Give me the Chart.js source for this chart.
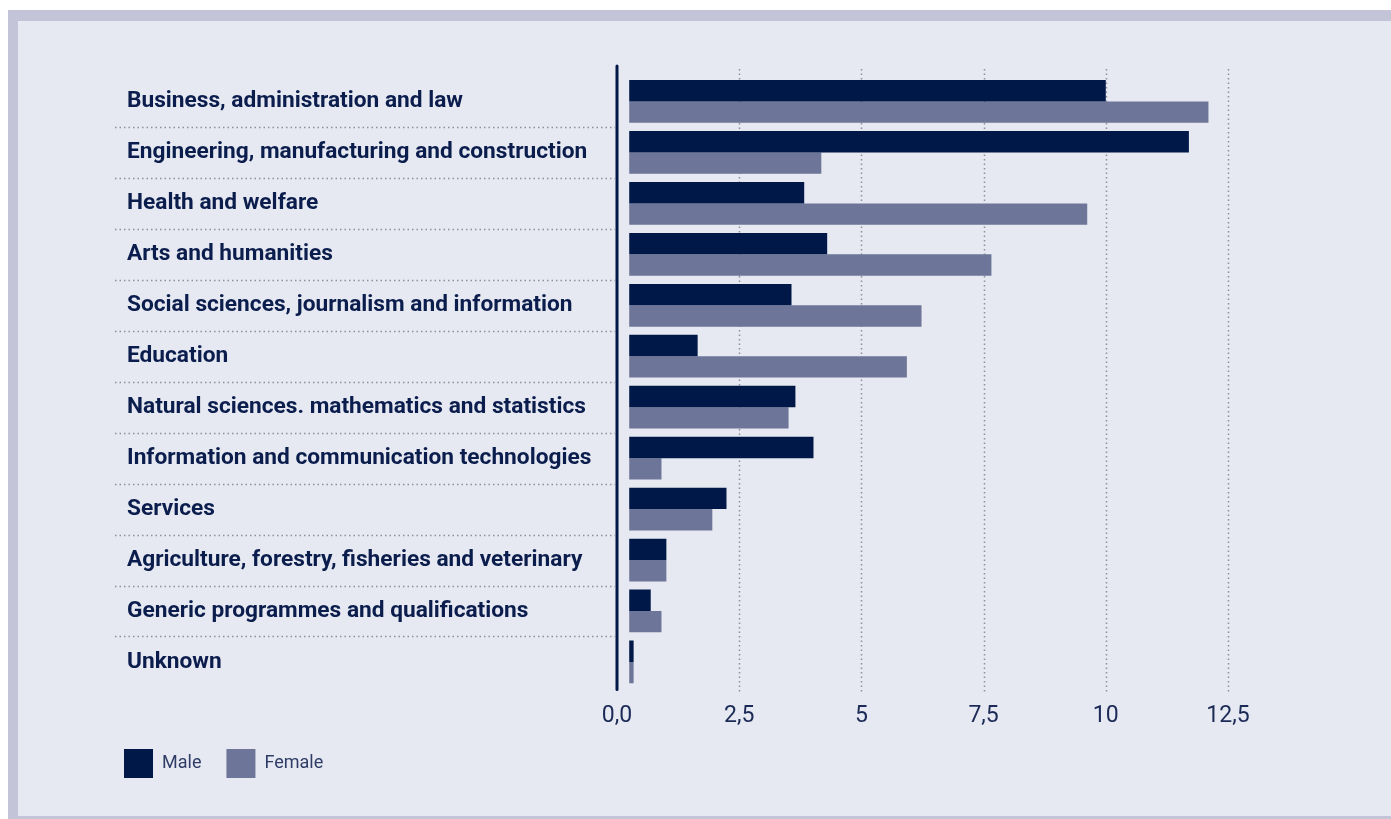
<!DOCTYPE html>
<html>
<head>
<meta charset="utf-8">
<script src="https://cdn.jsdelivr.net/npm/chart.js@4/dist/chart.umd.min.js"></script>
<style>
    body { margin: 0; background: #ffffff; }
    .frame {
        position: absolute; left: 8px; top: 10px; width: 1383px; height: 809px;
        box-sizing: border-box; background: #e6e9f1;
        border-left: 10px solid #c3c4d8; border-top: 11px solid #c3c4d8; border-bottom: 3px solid #c3c4d8;
    }
    #chartWrap { position: absolute; left: 0; top: 0; width: 1391px; height: 819px; }
</style>
</head>
<body>
<div class="frame"></div>
<div id="chartWrap"><canvas id="fieldsChart"></canvas></div>
<script>
const categories = [
    'Business, administration and law',
    'Engineering, manufacturing and construction',
    'Health and welfare',
    'Arts and humanities',
    'Social sciences, journalism and information',
    'Education',
    'Natural sciences. mathematics and statistics',
    'Information and communication technologies',
    'Services',
    'Agriculture, forestry, fisheries and veterinary',
    'Generic programmes and qualifications',
    'Unknown'
];
const maleValues = [10.0, 11.7, 3.83, 4.3, 3.57, 1.65, 3.65, 4.02, 2.24, 1.01, 0.69, 0.34];
const femaleValues = [12.1, 4.18, 9.62, 7.66, 6.23, 5.93, 3.51, 0.91, 1.95, 1.01, 0.91, 0.34];
const xTickLabels = ['0,0', '2,5', '5', '7,5', '10', '12,5'];

const NAVY = '#001848';
const SLATE = '#6d7598';
const DOTS = '#8c8f9c';

// dotted grid, row separators, thick axis line and the legend
const decorPlugin = {
    id: 'decor',
    beforeDatasetsDraw(chart) {
        const {ctx, chartArea, scales} = chart;
        const x = scales.x, y = scales.y;
        ctx.save();
        ctx.strokeStyle = DOTS;
        ctx.lineWidth = 1.5;
        ctx.setLineDash([1.5, 3]);
        x.ticks.forEach((t, i) => {
            if (i === 0) return;
            const px = Math.round(x.getPixelForValue(t.value)) + 0.5;
            ctx.beginPath();
            ctx.moveTo(px, chartArea.top - 7);
            ctx.lineTo(px, chartArea.bottom + 5);
            ctx.stroke();
        });
        for (let i = 0; i < categories.length - 1; i++) {
            const py = Math.round((y.getPixelForValue(i) + y.getPixelForValue(i + 1)) / 2) + 0.5;
            ctx.beginPath();
            ctx.moveTo(115, py);
            ctx.lineTo(chartArea.left - 2, py);
            ctx.stroke();
        }
        ctx.restore();
    },
    afterDraw(chart) {
        const {ctx, chartArea, scales} = chart;
        const x0 = scales.x.getPixelForValue(0);
        ctx.save();
        ctx.strokeStyle = NAVY;
        ctx.lineWidth = 3;
        ctx.lineCap = 'round';
        ctx.beginPath();
        ctx.moveTo(x0, chartArea.top - 10);
        ctx.lineTo(x0, chartArea.bottom + 2);
        ctx.stroke();

        // legend
        let lx = 124;
        const ly = 749;
        ctx.font = '18px Roboto';
        ctx.textBaseline = 'middle';
        chart.data.datasets.forEach(ds => {
            ctx.fillStyle = ds.backgroundColor;
            ctx.fillRect(lx, ly, 29, 29);
            ctx.fillStyle = '#2e3c66';
            ctx.fillText(ds.label, lx + 38, ly + 14.5);
            lx += 38 + ctx.measureText(ds.label).width + 25;
        });
        ctx.restore();
    }
};

const ctx = document.getElementById('fieldsChart').getContext('2d');
new Chart(ctx, {
    type: 'bar',
    data: {
        labels: categories,
        datasets: [
            {
                label: 'Male',
                data: maleValues,
                backgroundColor: NAVY,
                base: 0.25,
                categoryPercentage: 0.84,
                barPercentage: 1.0
            },
            {
                label: 'Female',
                data: femaleValues,
                backgroundColor: SLATE,
                base: 0.25,
                categoryPercentage: 0.84,
                barPercentage: 1.0
            }
        ]
    },
    options: {
        indexAxis: 'y',
        responsive: true,
        maintainAspectRatio: false,
        animation: false,
        layout: {padding: {left: 127, right: 163, top: 76, bottom: 74}},
        plugins: {
            legend: {display: false},
            tooltip: {enabled: false}
        },
        scales: {
            x: {
                min: 0,
                max: 12.5,
                grid: {display: false, drawTicks: false},
                border: {display: false},
                ticks: {
                    stepSize: 2.5,
                    padding: 15,
                    color: '#1b2a56',
                    font: {family: 'Roboto', size: 23},
                    callback: (value, i) => xTickLabels[i]
                }
            },
            y: {
                grid: {display: false, drawTicks: false},
                border: {display: false},
                afterFit: scale => { scale.width = 490; },
                ticks: {
                    crossAlign: 'far',
                    autoSkip: false,
                    color: '#0b1d4d',
                    font: {family: 'Roboto', size: 22.7, weight: 'bold'}
                }
            }
        }
    },
    plugins: [decorPlugin]
});
</script>
</body>
</html>
